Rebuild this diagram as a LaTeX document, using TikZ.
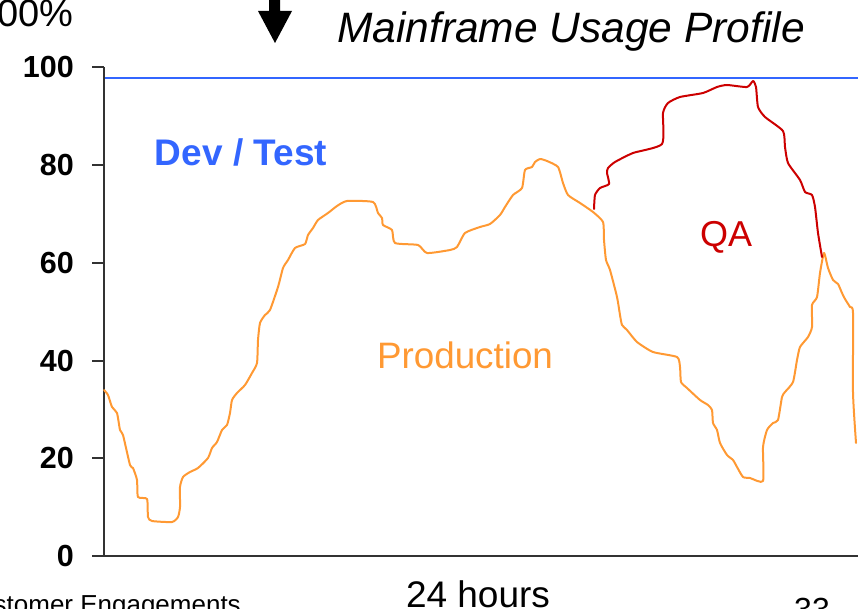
\documentclass[tikz,border=0pt]{standalone}
\usepackage{fontspec}
\setmainfont{Liberation Sans}
\definecolor{devblue}{RGB}{51,102,255}
\definecolor{prodorange}{RGB}{255,153,51}
\definecolor{qared}{RGB}{204,0,0}
\definecolor{axisgray}{RGB}{50,50,50}
\begin{document}
\begin{tikzpicture}[x=1pt,y=-1pt,
  axisline/.style={axisgray,line width=1.6pt},
  ticklabel/.style={anchor=east,inner sep=0pt,font=\fontsize{30.5}{30.5}\selectfont\bfseries},
  curveprod/.style={prodorange,line width=2pt,line join=round,line cap=round},
  curveqa/.style={qared,line width=2pt,line join=round,line cap=round},
  lbl/.style={inner sep=0pt,anchor=base}]
\useasboundingbox (0,0) rectangle (858,609);
\clip (0,0) rectangle (858,609);

% top-left percent label (cut off)
\node[lbl,anchor=base east,font=\fontsize{38}{38}\selectfont] (pct) at (74,27) {100\%};

% down arrow
\fill[black] (269,0) -- (280,0) -- (280,11) -- (292,11) -- (275,43) -- (258,11) -- (269,11) -- cycle;

% title
\node[lbl,font=\fontsize{42.5}{42.5}\selectfont\itshape] (title) at (571,43) {Mainframe Usage Profile};

% axes
\draw[axisline] (104,67) -- (104,556) -- (858,556);
\foreach \v/\y in {100/67,80/165,60/263,40/361,20/458,0/556}{
  \draw[axisline] (92,\y) -- (104,\y);
  \node[ticklabel] (t\v) at (74,\y) {\v};
}

% blue capacity line
\draw[devblue,line width=2pt] (105,78) -- (858,78);

% production curve
\draw[curveprod] plot[smooth,tension=0.35] coordinates {
(104,390) (108,395) (112,407) (117,413) (120,430) (123,435) (130,465) (133,468)
(137,480) (138,497) (147,499) (148,517) (152,521) (172,522) (178,517) (180,507)
(180,487) (183,477) (190,472) (198,468) (208,458) (212,448) (217,442) (222,430)
(227,425) (230,413) (232,400) (237,393) (245,385) (252,373) (257,363) (258,340)
(260,323) (265,315) (270,310) (278,287) (283,268) (288,260) (295,248) (305,244)
(308,235) (313,228) (318,220) (328,213) (337,206) (347,201) (373,202) (378,213)
(382,218) (383,225) (392,230) (395,243) (418,245) (427,253) (450,250) (457,247)
(465,233) (480,227) (490,224) (500,215) (505,207) (513,195) (522,188) (525,170)
(532,167) (535,162) (540,159) (547,161) (558,167) (563,183) (568,195) (580,203)
(593,212) (603,222) (604,240) (606,260) (610,270) (617,297) (620,315) (622,325)
(627,330) (637,342) (653,352) (677,357) (680,367) (681,382) (687,388) (700,400)
(708,405) (712,410) (713,423) (717,430) (720,443) (727,455) (733,460) (737,467)
(743,477) (750,478) (763,481) (763,447) (767,430) (773,423) (778,420) (782,397)
(785,392) (793,382) (797,360) (800,347) (808,337) (812,327) (812,305) (817,297)
(820,273) (824,253) (828,268) (833,280) (838,284) (842,293) (845,299) (850,307)
(853,313) (853,393) (856,443)};

% QA curve
\draw[curveqa] plot[smooth,tension=0.35] coordinates {
(594,209) (595,195) (600,188) (609,184) (607,173) (608,168) (615,162) (633,153)
(662,144) (663,113) (668,103) (680,97) (703,93) (717,87) (727,85) (747,87)
(753,81) (756,87) (758,107) (765,117) (783,131) (785,147) (788,163) (800,180)
(805,192) (812,195) (815,207) (818,233) (822,257)};

% area labels
\node[lbl,font=\fontsize{37}{37}\selectfont\bfseries,text=devblue] (dev) at (241,166) {Dev / Test};
\node[lbl,font=\fontsize{36.8}{36.8}\selectfont,text=prodorange] (prod) at (465,368) {Production};
\node[lbl,font=\fontsize{36}{36}\selectfont,text=qared] (qa) at (726,247) {QA};

% bottom texts
\node[lbl,font=\fontsize{37}{37}\selectfont] (hours) at (478,607) {24 hours};
\node[lbl,anchor=base east,font=\fontsize{26}{26}\selectfont] (cust) at (241,613) {Customer Engagements};
\node[lbl,font=\fontsize{32}{32}\selectfont] (page) at (812,620) {33};
\end{tikzpicture}
\end{document}
